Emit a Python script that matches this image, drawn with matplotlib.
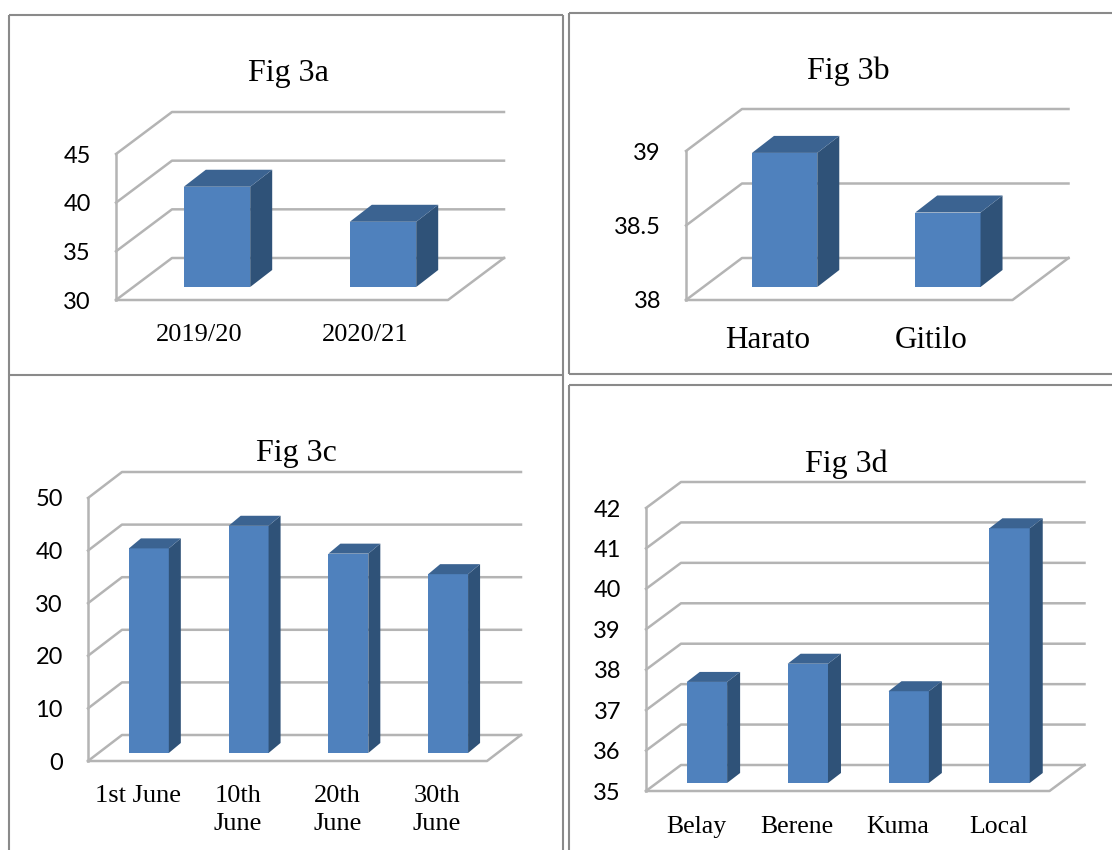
import matplotlib
matplotlib.use("Agg")
import matplotlib.pyplot as plt

# Figure size in pixels
W = 1112
H = 850

# Chart values
cats_a = ["2019/20", "2020/21"]
vals_a = [40.3, 36.7]
ticks_a = [30, 35, 40, 45]

cats_b = ["Harato", "Gitilo"]
vals_b = [38.9, 38.5]
ticks_b = [38, 38.5, 39]

cats_c = ["1st June", "10th\nJune", "20th\nJune", "30th\nJune"]
vals_c = [38.9, 43.2, 37.9, 34.0]
ticks_c = [0, 10, 20, 30, 40, 50]

cats_d = ["Belay", "Berene", "Kuma", "Local"]
vals_d = [37.5, 37.95, 37.27, 41.3]
ticks_d = [35, 36, 37, 38, 39, 40, 41, 42]

# Colours
GRID = "#b4b4b4"
FRAME = "#8a8a8a"
FRONT = "#4f81bd"
SIDE = "#2f5278"
TOP = "#3b6391"

SERIF = "Liberation Serif"
SANS = "Lato"

fig = plt.figure(figsize=(W / 100, H / 100), dpi=100, facecolor="white")

# Background axes in pixel units, for the table borders and the titles
bg = fig.add_axes([0, 0, 1, 1])
bg.set_xlim(0, W)
bg.set_ylim(H, 0)
bg.axis("off")

frame_lines = [
    ([9, 563], [15, 15]), ([9, 9], [15, 850]), ([563, 563], [15, 850]),
    ([9, 563], [375, 375]),
    ([569, 1112], [13, 13]), ([569, 569], [13, 374]), ([569, 1112], [374, 374]),
    ([569, 1112], [385, 385]), ([569, 569], [385, 850]),
]
for xs, ys in frame_lines:
    bg.plot(xs, ys, color=FRAME, lw=1.5, solid_capstyle="butt")

bg.text(288, 81, "Fig 3a", family=SERIF, fontsize=23, ha="center", va="baseline")
bg.text(848, 79, "Fig 3b", family=SERIF, fontsize=23, ha="center", va="baseline")
bg.text(296, 461, "Fig 3c", family=SERIF, fontsize=23, ha="center", va="baseline")
bg.text(846, 472, "Fig 3d", family=SERIF, fontsize=23, ha="center", va="baseline")


def draw_panel(box, cats, vals, ticks, back, depth, inset, label_size, label_pad):
    # box is the front plane in pixels: left, right, y of top tick, y of bottom tick
    left, right, top, bottom = box
    ax = fig.add_axes([left / W, 1 - bottom / H, (right - left) / W, (bottom - top) / H])
    ax.patch.set_visible(False)
    n = len(cats)
    ymin, ymax = ticks[0], ticks[-1]
    ax.set_xlim(0, n)
    ax.set_ylim(ymin, ymax)
    px_x = (right - left) / n
    px_y = (bottom - top) / (ymax - ymin)

    # pixel offsets to data units
    bx, by = back[0] / px_x, back[1] / px_y
    dx, dy = depth[0] / px_x, depth[1] / px_y
    ix, iy = inset[0] / px_x, inset[1] / px_y

    # walls and floor
    line = dict(color=GRID, lw=1.8, clip_on=False, solid_capstyle="projecting", zorder=1)
    ax.plot([0, 0], [ymin, ymax], **line)
    ax.plot([0, n, n + bx], [ymin, ymin, ymin + by], **line)
    for t in ticks:
        ax.plot([0, bx, n + bx], [t, t + by, t + by], **line)

    # bars, a front face plus side and top faces
    width = 0.4
    for i, v in enumerate(vals):
        x0 = i + 0.5 + ix - width / 2
        x1 = x0 + width
        y0 = ymin + iy
        y1 = v + iy
        ax.bar(x0, y1 - y0, width=width, bottom=y0, align="edge", color=FRONT, clip_on=False, zorder=3)
        ax.fill([x1, x1 + dx, x1 + dx, x1], [y0, y0 + dy, y1 + dy, y1], color=SIDE, lw=0, clip_on=False, zorder=3)
        ax.fill([x0, x1, x1 + dx, x0 + dx], [y1, y1, y1 + dy, y1 + dy], color=TOP, lw=0, clip_on=False, zorder=3)

    ax.set_yticks(ticks)
    ax.set_yticklabels([str(t) for t in ticks], family=SANS, fontsize=17)
    ax.set_xticks([i + 0.5 for i in range(n)])
    ax.set_xticklabels(cats, family=SERIF, fontsize=label_size, linespacing=1.4)
    ax.tick_params(axis="y", length=0, pad=18)
    ax.tick_params(axis="x", length=0, pad=label_pad)
    for s in ax.spines.values():
        s.set_visible(False)
    return ax


draw_panel((116, 448, 154, 300), cats_a, vals_a, ticks_a, (56, 42), (22, 17), (18, 13), 19, 17)
draw_panel((686, 1012.5, 151, 300), cats_b, vals_b, ticks_b, (56, 42), (22, 17), (17, 13), 22.5, 19)
draw_panel((88, 487, 498, 761), cats_c, vals_c, ticks_c, (34, 26), (12, 10), (11, 8), 19, 17)
draw_panel((646, 1049.5, 508, 791), cats_d, vals_d, ticks_d, (35, 26), (13, 10), (10.5, 8), 18.5, 18)

fig.savefig("out.png", dpi=100)
